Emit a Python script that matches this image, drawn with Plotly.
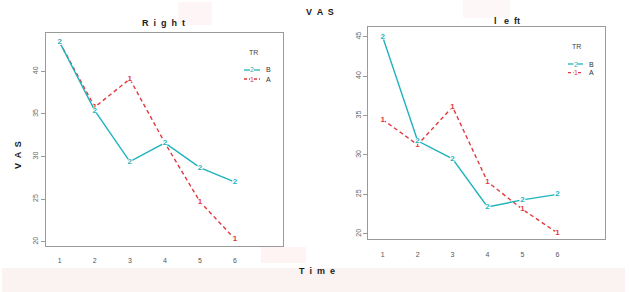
import plotly.graph_objects as go

W, H = 629, 292
time = [1, 2, 3, 4, 5, 6]
right_B = [43.4, 35.4, 29.4, 31.6, 28.7, 27.0]
right_A = [43.4, 35.8, 39.1, 31.6, 24.7, 20.3]
left_B = [45.0, 31.8, 29.5, 23.4, 24.3, 25.0]
left_A = [34.5, 31.3, 36.1, 26.6, 23.1, 20.1]
yticks = [20, 25, 30, 35, 40, 45]
groups = ["B", "A"]
group_symbols = ["2", "1"]

TEAL = "#1fb3bd"
RED = "#e0393e"
FONT = "Liberation Sans, Arial, sans-serif"
DASH = "4px,3px"

def px(x):
    return x / W

def py(y):
    return 1 - y / H

fig = go.Figure()

panels = [("x", "y", right_B, right_A), ("x2", "y2", left_B, left_A)]
for xa, ya, b, a in panels:
    # A first so that B's symbols sit on top where they coincide
    for vals, col, sym, dash in [(a, RED, "1", DASH), (b, TEAL, "2", "solid")]:
        fig.add_trace(go.Scatter(
            x=time, y=vals, mode="lines+markers+text", text=[sym] * len(vals),
            textposition="middle center",
            textfont=dict(color=col, size=8, family=FONT, weight="bold"),
            marker=dict(color="white", size=6, line=dict(width=0)),
            line=dict(color=col, width=1.4, dash=dash), xaxis=xa, yaxis=ya,
            cliponaxis=False, showlegend=False, hoverinfo="skip"))

axis_common = dict(showgrid=False, zeroline=False, showline=True, mirror=True,
                   linecolor="#9a9a9a", linewidth=1)
xcommon = dict(axis_common, tickmode="array", tickvals=time, ticks="",
               tickfont=dict(size=7, color="#555", family=FONT), ticklabelstandoff=8)
ycommon = dict(axis_common, tickmode="array", tickvals=yticks, ticks="outside",
               ticklen=4, tickcolor="#9a9a9a", tickangle=-90,
               tickfont=dict(size=7, color="#666", family=FONT))

fig.update_layout(
    width=W, height=H, margin=dict(l=0, r=0, t=0, b=0),
    paper_bgcolor="white", plot_bgcolor="white", showlegend=False,
    xaxis=dict(xcommon, domain=[px(45.7), px(282.7)], range=[0.6, 7.36], anchor="y"),
    yaxis=dict(ycommon, domain=[py(246), py(33)], range=[19.5, 44.5], anchor="x"),
    xaxis2=dict(xcommon, domain=[px(368.3), px(605)], range=[0.59, 7.36], anchor="y2"),
    yaxis2=dict(ycommon, domain=[py(239.3), py(27.3)], range=[19.3, 46.2], anchor="x2"),
)

shapes = [
    dict(type="rect", xref="paper", yref="paper", x0=px(2), x1=px(625), y0=py(292), y1=py(268),
         fillcolor="#fbf3f1", line=dict(width=0), layer="below"),
    dict(type="rect", xref="paper", yref="paper", x0=px(178), x1=px(212), y0=py(25), y1=py(2),
         fillcolor="#fef6f6", line=dict(width=0), layer="below"),
    dict(type="rect", xref="paper", yref="paper", x0=px(261), x1=px(306), y0=py(263), y1=py(247),
         fillcolor="#fdf4f3", line=dict(width=0), layer="below"),
    dict(type="rect", xref="paper", yref="paper", x0=px(463), x1=px(510), y0=py(18), y1=py(0),
         fillcolor="#fef7f7", line=dict(width=0), layer="below"),
]

def txt(text, x, y, size=9, color="#1a1a1a", angle=0, xanchor="center", weight="normal"):
    return dict(text=text, x=px(x), y=py(y), xref="paper", yref="paper",
                showarrow=False, xanchor=xanchor, yanchor="middle", textangle=angle,
                font=dict(size=size, family=FONT, color=color, weight=weight))

annotations = [
    txt("V  A  S", 320, 12, weight="bold"),
    txt("R  i  g  h  t", 163, 23, weight="bold"),
    txt("l   e  ft", 507, 21, weight="bold"),
    txt("T  i  m  e", 317, 271, weight="bold"),
    txt("V  A  S", 18, 155, angle=-90, weight="bold"),
]

# manual legends (one per panel)
legends = [
    dict(title=(253, 52), rows=[70, 79], x0=244, x1=260, lab=264),
    dict(title=(576, 47), rows=[64, 72.7], x0=568, x1=583, lab=587),
]
for lg in legends:
    annotations.append(txt("TR", lg["title"][0], lg["title"][1], size=7, color="#444"))
    for gi, (g, sym) in enumerate(zip(groups, group_symbols)):
        yy = lg["rows"][gi]
        col = TEAL if g == "B" else RED
        shapes.append(dict(type="line", xref="paper", yref="paper",
                           x0=px(lg["x0"]), x1=px(lg["x1"]), y0=py(yy), y1=py(yy),
                           line=dict(color=col, width=1.3,
                                     dash="solid" if g == "B" else "3px,2px")))
        xm = (lg["x0"] + lg["x1"]) / 2
        shapes.append(dict(type="rect", xref="paper", yref="paper",
                           x0=px(xm - 2), x1=px(xm + 2), y0=py(yy + 2), y1=py(yy - 2),
                           fillcolor="white", line=dict(width=0)))
        annotations.append(txt(sym, xm, yy, size=7, color=col))
        annotations.append(txt(g, lg["lab"], yy, size=7, color="#333", xanchor="left"))

fig.update_layout(shapes=shapes, annotations=annotations)

fig.write_html("out.html", config={"displayModeBar": False},
               post_script="document.body.style.margin='0';document.body.style.padding='0';")
